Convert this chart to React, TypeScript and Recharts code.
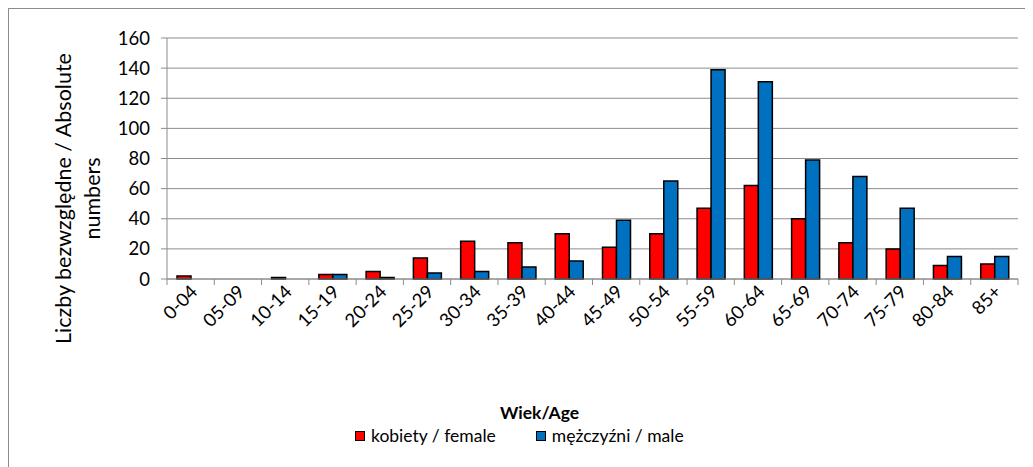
import React from "react";
import { BarChart, Bar, XAxis, YAxis, CartesianGrid, Legend, Label } from "recharts";

const categories = ["0-04","05-09","10-14","15-19","20-24","25-29","30-34","35-39","40-44","45-49","50-54","55-59","60-64","65-69","70-74","75-79","80-84","85+"];
const female = [2,0,1,3,5,14,25,24,30,21,30,47,62,40,24,20,9,10];
const male = [0,0,0,3,1,4,5,8,12,39,65,139,131,79,68,47,15,15];
const yTicks = [0,20,40,60,80,100,120,140,160];

const seriesNames = { female: "kobiety / female", male: "mężczyźni / male" };
const xTitle = "Wiek/Age";
const yTitle = ["Liczby bezwzględne / Absolute", "numbers"];

const data = categories.map((c, i) => ({ age: c, female: female[i], male: male[i] }));

const FONT = "Lato, 'Open Sans', sans-serif";
const GRID = "#8c8c8c";

const XTick = (props: any) => {
  const { x, y, payload, index } = props;
  const half = payload && payload.offset ? payload.offset : 23.6;
  const lines = [
    <line key="l" x1={x - half} x2={x - half} y1={y - 8} y2={y - 2} stroke={GRID} />,
  ];
  if (index === categories.length - 1) {
    lines.push(<line key="r" x1={x + half} x2={x + half} y1={y - 8} y2={y - 2} stroke={GRID} />);
  }
  return (
    <g>
      {lines}
      <text
        x={x + 8}
        y={y + 6}
        transform={`rotate(-45, ${x + 8}, ${y + 6})`}
        textAnchor="end"
        fontFamily={FONT}
        fontSize={18.5}
        fill="#000"
      >
        {payload.value}
      </text>
    </g>
  );
};

const YLabel = (props: any) => {
  const vb = props.viewBox || {};
  const cy = (vb.y || 29) + (vb.height || 241) / 2 + 40;
  const x1 = 54;
  const x2 = 83;
  return (
    <g>
      <text x={x1} y={cy} transform={`rotate(-90, ${x1}, ${cy})`} textAnchor="middle" dominantBaseline="central" fontFamily={FONT} fontSize={21.5} fill="#000">
        {yTitle[0]}
      </text>
      <text x={x2} y={cy} transform={`rotate(-90, ${x2}, ${cy})`} textAnchor="middle" dominantBaseline="central" fontFamily={FONT} fontSize={21.5} fill="#000">
        {yTitle[1]}
      </text>
    </g>
  );
};

const LegendContent = () => (
  <div style={{ fontFamily: FONT, color: "#000" }}>
    <div style={{ position: "absolute", left: 491, top: 0, fontWeight: 700, fontSize: 17.5, whiteSpace: "nowrap" }}>{xTitle}</div>
    <div style={{ position: "absolute", left: 346, top: 23, display: "flex", alignItems: "center", fontSize: 17.5, whiteSpace: "nowrap" }}>
      <span style={{ display: "inline-block", width: 8, height: 8, background: "#FF0000", border: "1px solid #000", marginRight: 6 }} />
      <span style={{ marginRight: 40 }}>{seriesNames.female}</span>
      <span style={{ display: "inline-block", width: 8, height: 8, background: "#0070C0", border: "1px solid #000", marginRight: 6 }} />
      <span>{seriesNames.male}</span>
    </div>
  </div>
);

export default function App() {
  return (
    <div style={{ width: 1060, height: 470, border: "1px solid #8c8c8c", position: "relative", background: "#fff" }}>
      <BarChart
        width={1030}
        height={460}
        data={data}
        margin={{ top: 29, right: 21, left: 98, bottom: 50 }}
        barGap={0}
        barSize={14}
      >
        <CartesianGrid vertical={false} stroke={GRID} strokeWidth={1} />
        <XAxis
          dataKey="age"
          interval={0}
          tickLine={false}
          axisLine={{ stroke: GRID }}
          tick={<XTick />}
          height={90}
        />
        <YAxis
          width={60}
          domain={[0, 160]}
          ticks={yTicks}
          interval={0}
          tickLine={{ stroke: GRID }}
          tickSize={6}
          tickMargin={11}
          axisLine={{ stroke: GRID }}
          tick={{ fontFamily: FONT, fontSize: 18.5, fill: "#000" }}
        >
          <Label content={<YLabel />} />
        </YAxis>
        <Legend
          content={<LegendContent />}
          wrapperStyle={{ position: "absolute", top: 393, left: 0, width: 1030, height: 50 }}
        />
        <Bar dataKey="female" name={seriesNames.female} fill="#FF0000" stroke="#000" strokeWidth={1.5} isAnimationActive={false} />
        <Bar dataKey="male" name={seriesNames.male} fill="#0070C0" stroke="#000" strokeWidth={1.5} isAnimationActive={false} />
      </BarChart>
    </div>
  );
}
